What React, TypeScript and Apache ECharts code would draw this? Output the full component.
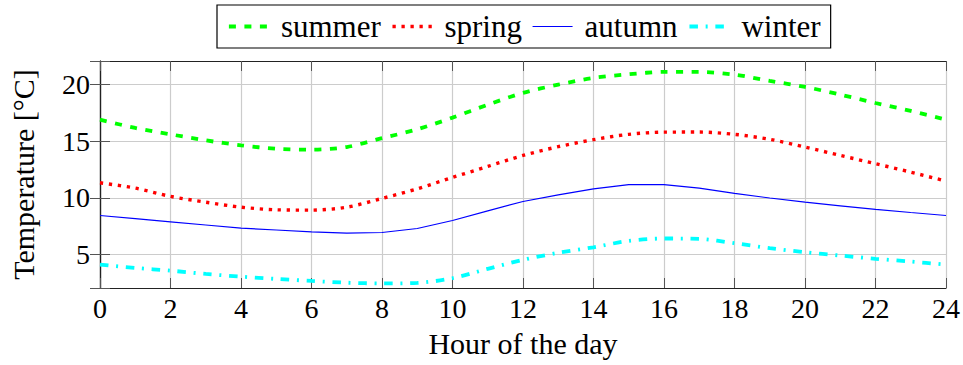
import React, { useEffect, useRef } from "react";
import * as echarts from "echarts";

const hours = [0, 1, 2, 3, 4, 5, 6, 7, 8, 9, 10, 11, 12, 13, 14, 15, 16, 17, 18, 19, 20, 21, 22, 23, 24];
const summer = [16.88, 16.15, 15.59, 15.06, 14.62, 14.32, 14.24, 14.47, 15.25, 16.03, 17.06, 18.2, 19.24, 19.97, 20.56, 20.88, 21.09, 21.09, 20.85, 20.3, 19.77, 19.09, 18.35, 17.65, 16.88];
const spring = [11.32, 10.85, 10.12, 9.61, 9.17, 8.94, 8.91, 9.17, 9.94, 10.79, 11.79, 12.76, 13.73, 14.5, 15.12, 15.59, 15.78, 15.79, 15.59, 15.15, 14.47, 13.73, 13.0, 12.26, 11.47];
const autumn = [8.44, 8.16, 7.88, 7.6, 7.32, 7.16, 7.0, 6.88, 6.94, 7.29, 8.0, 8.85, 9.67, 10.26, 10.79, 11.15, 11.16, 10.85, 10.38, 9.98, 9.61, 9.29, 8.97, 8.7, 8.44];
const winter = [4.11, 3.82, 3.58, 3.29, 3.05, 2.85, 2.67, 2.52, 2.45, 2.5, 2.91, 3.74, 4.53, 5.15, 5.64, 6.2, 6.41, 6.38, 6.0, 5.56, 5.2, 4.91, 4.62, 4.38, 4.11];
const seriesNames = ["summer", "spring", "autumn", "winter"];
const xTitle = "Hour of the day";
const yTitle = "Temperature [°C]";

const FONT = "Liberation Serif";
const Y_MIN = 2.05;
const Y_MAX = 22.05;

export default function App() {
  const ref = useRef<HTMLDivElement>(null);
  useEffect(() => {
    if (!ref.current) return;
    const chart = echarts.init(ref.current, undefined, { renderer: "svg" });
    const pairs = (vals: number[]) => hours.map((h, i) => [h, vals[i]]);
    const frame = { show: true, lineStyle: { color: "#222", width: 1.2 } };
    const tick = { show: true, inside: true, length: 10, lineStyle: { color: "#555", width: 1 } };
    const yFormatter = (v: number) => {
      const r = Math.round(v / 5) * 5;
      return Math.abs(v - r) < 1e-6 ? String(r) : "";
    };
    chart.setOption({
      animation: false,
      backgroundColor: "#fff",
      textStyle: { fontFamily: FONT },
      grid: { left: 99, right: 17, top: 61, bottom: 77, containLabel: false },
      legend: {
        left: 217,
        top: 5,
        padding: [6, 10, 6, 10],
        borderColor: "#000",
        borderWidth: 1.2,
        itemWidth: 40,
        itemHeight: 14,
        itemGap: 10,
        itemStyle: { color: "transparent", borderWidth: 0, opacity: 0 },
        lineStyle: { width: "inherit", type: "inherit", cap: "butt" },
        textStyle: { fontFamily: FONT, fontSize: 31, color: "#000", padding: [0, 0, 0, 7] },
        data: seriesNames,
      },
      xAxis: [
        {
          type: "value",
          min: 0,
          max: 24,
          interval: 2,
          position: "bottom",
          name: xTitle,
          nameLocation: "middle",
          nameGap: 40,
          nameTextStyle: { fontFamily: FONT, fontSize: 30, color: "#000" },
          axisLine: frame,
          axisTick: tick,
          axisLabel: { fontFamily: FONT, fontSize: 28, color: "#000", margin: 6 },
          splitLine: { show: true, lineStyle: { color: "#cccccc", width: 1.2 } },
        },
        {
          type: "value",
          min: 0,
          max: 24,
          interval: 2,
          position: "top",
          axisLine: frame,
          axisTick: tick,
          axisLabel: { show: false },
          splitLine: { show: false },
        },
      ],
      yAxis: [
        {
          type: "value",
          min: Y_MIN,
          max: Y_MAX,
          splitNumber: 4,
          position: "left",
          name: yTitle,
          nameLocation: "middle",
          nameRotate: 90,
          nameGap: 62,
          nameTextStyle: { fontFamily: FONT, fontSize: 30, color: "#000" },
          axisLine: frame,
          axisTick: tick,
          axisLabel: { fontFamily: FONT, fontSize: 28, color: "#000", margin: 10, formatter: yFormatter },
          splitLine: { show: true, lineStyle: { color: "#cccccc", width: 1.2 } },
        },
        {
          type: "value",
          min: Y_MIN,
          max: Y_MAX,
          splitNumber: 4,
          position: "right",
          axisLine: frame,
          axisTick: tick,
          axisLabel: { show: false },
          splitLine: { show: false },
        },
      ],
      series: [
        {
          name: seriesNames[0],
          type: "line",
          data: pairs(summer),
          symbol: "none",
          smooth: 0.3,
          color: "#00ff00",
          lineStyle: { color: "#00ff00", width: 3.8, type: [7, 8.5], cap: "butt" },
          z: 4,
        },
        {
          name: seriesNames[1],
          type: "line",
          data: pairs(spring),
          symbol: "none",
          smooth: 0.3,
          color: "#ff0000",
          lineStyle: { color: "#ff0000", width: 3.4, type: [3.3, 5.7], cap: "butt" },
          z: 4,
        },
        {
          name: seriesNames[2],
          type: "line",
          data: pairs(autumn),
          symbol: "none",
          smooth: false,
          color: "#0000ff",
          lineStyle: { color: "#0000ff", width: 1.2, type: "solid" },
          z: 4,
        },
        {
          name: seriesNames[3],
          type: "line",
          data: pairs(winter),
          symbol: "none",
          smooth: 0.3,
          color: "#00ffff",
          lineStyle: { color: "#00ffff", width: 3.8, type: [8.5, 7.7, 2, 7.7], cap: "butt" },
          z: 4,
        },
      ],
    });
    return () => chart.dispose();
  }, []);
  return (
    <div
      ref={ref}
      style={{ position: "fixed", left: 0, top: 0, width: 963, height: 365, background: "#fff" }}
    />
  );
}
